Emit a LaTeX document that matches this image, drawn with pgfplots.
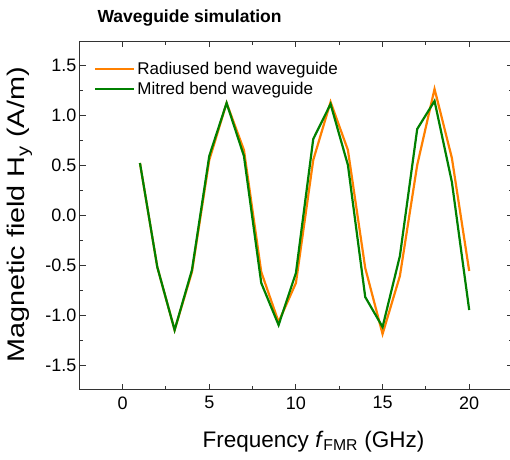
\documentclass[border=0pt]{standalone}
\usepackage{pgfplots}
\pgfplotsset{compat=1.18}
\usepackage{fontspec}
\setmainfont{Liberation Sans}
\definecolor{rorange}{RGB}{255,128,0}
\definecolor{mgreen}{RGB}{0,128,0}
\begin{document}
\begin{tikzpicture}
\path[use as bounding box] (-80pt,-70pt) rectangle (430pt,389pt);
\begin{axis}[
  scale only axis,
  width=432pt, height=348pt,
  xmin=-2.46, xmax=22.47,
  ymin=-1.74, ymax=1.74,
  axis line style={line width=1pt, black!80},
  major tick style={line width=1pt, black!80},
  minor tick style={line width=1pt, black!80},
  tick align=inside,
  major tick length=5.5pt,
  minor tick length=3.5pt,
  xtick={0,5,10,15,20},
  minor xtick={2.5,7.5,12.5,17.5,22.5},
  ytick={-1.5,-1,-0.5,0,0.5,1,1.5},
  minor ytick={-1.25,-0.75,-0.25,0.25,0.75,1.25},
  /pgf/number format/assume math mode=true,
  ticklabel style={font=\fontsize{18}{21}\selectfont},
  yticklabel style={/pgf/number format/.cd, fixed, fixed zerofill, precision=1},
  xticklabel style={yshift=-4pt},
  xlabel={Frequency \textit{f}\textsubscript{FMR} (GHz)},
  ylabel={\scalebox{1.2}[1]{Magnetic field H\textsubscript{y} (A/m)}},
  every axis x label/.style={font=\fontsize{22.5}{27}\selectfont, at={(rel axis cs:0,0)}, xshift=233.5pt, yshift=-58pt, anchor=base},
  every axis y label/.style={font=\fontsize{24}{28}\selectfont, at={(rel axis cs:0,0.5)}, xshift=-55pt, rotate=90, anchor=base},
  title={Waveguide simulation},
  title style={font=\fontsize{17.5}{21}\selectfont\bfseries, at={(rel axis cs:0,1)}, anchor=base west, xshift=14pt, yshift=13pt},
  legend style={draw=none, fill=none, font=\fontsize{17}{20}\selectfont, at={(rel axis cs:0,1)}, xshift=11pt, yshift=-17pt, anchor=north west, row sep=2pt},
  legend cell align=left,
  legend image code/.code={\draw[#1] (0pt,0pt) -- (39pt,0pt);},
  every axis plot/.append style={line width=2.2pt},
]
\addplot[rorange] coordinates {
(1,0.52) (2,-0.52) (3,-1.15) (4,-0.57) (5,0.55) (6,1.12) (7,0.65) (8,-0.57) (9,-1.07) (10,-0.68)
(11,0.55) (12,1.13) (13,0.65) (14,-0.53) (15,-1.19) (16,-0.61) (17,0.50) (18,1.26) (19,0.57) (20,-0.56)};
\addlegendentry{Radiused bend waveguide}
\addplot[mgreen] coordinates {
(1,0.52) (2,-0.52) (3,-1.15) (4,-0.55) (5,0.59) (6,1.12) (7,0.59) (8,-0.68) (9,-1.10) (10,-0.58)
(11,0.76) (12,1.11) (13,0.50) (14,-0.82) (15,-1.12) (16,-0.41) (17,0.86) (18,1.14) (19,0.33) (20,-0.95)};
\addlegendentry{Mitred bend waveguide}
\end{axis}
\end{tikzpicture}
\end{document}
